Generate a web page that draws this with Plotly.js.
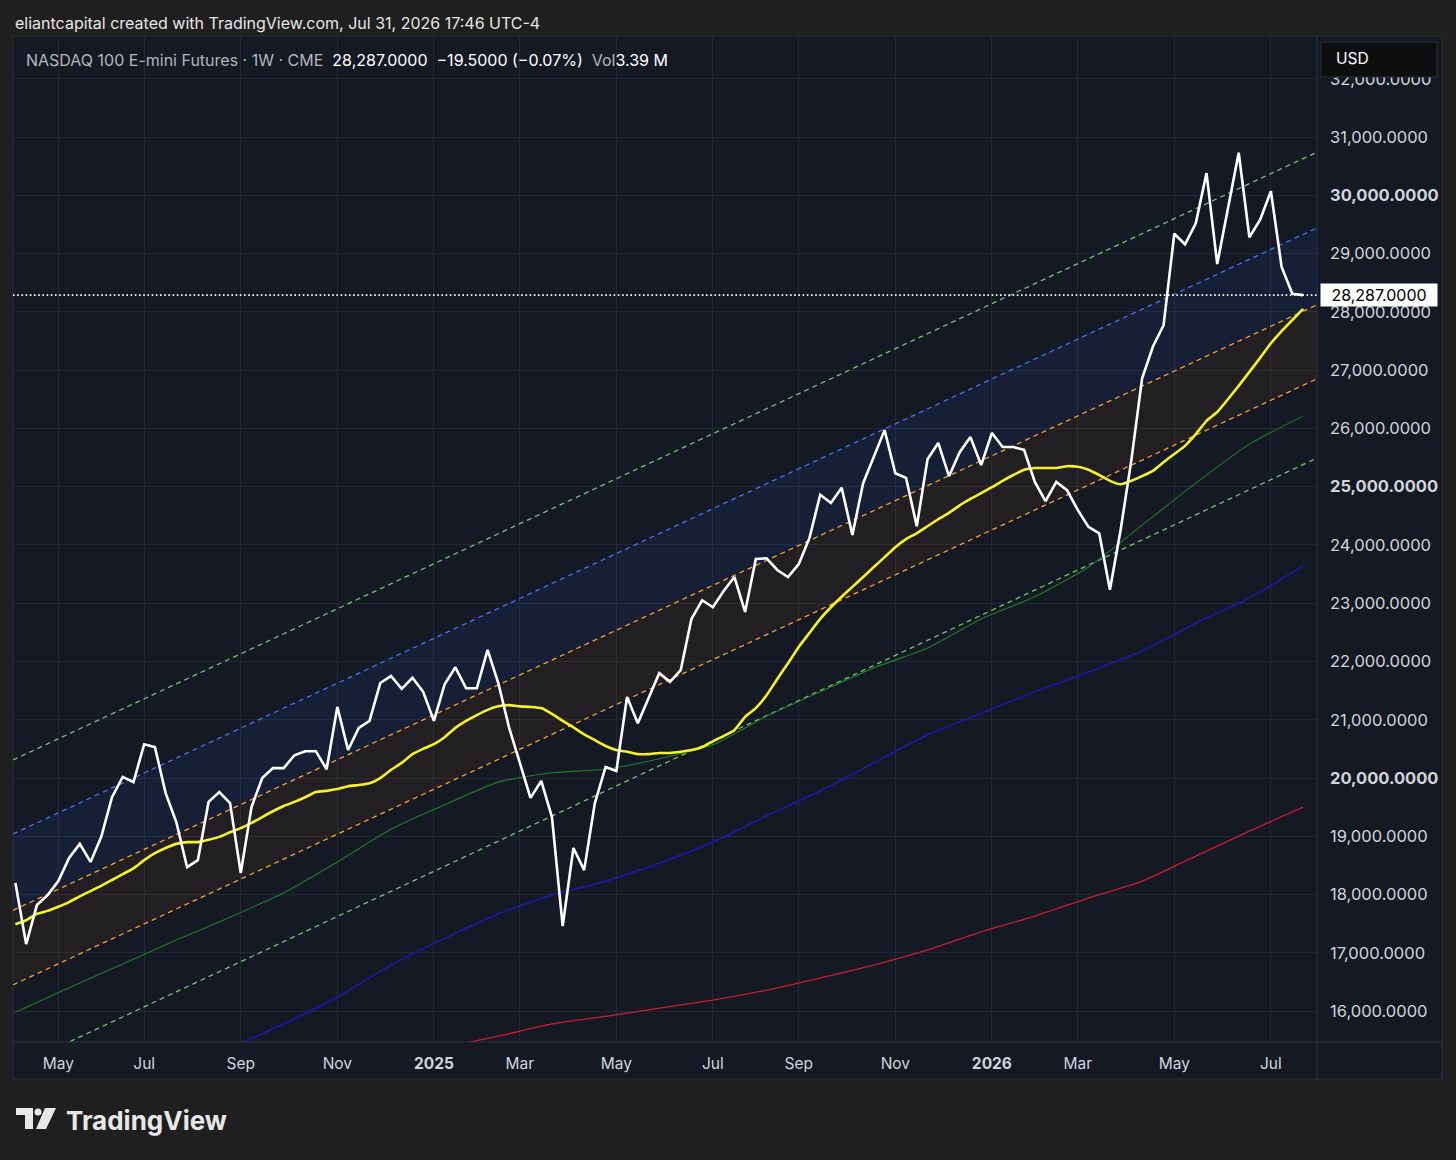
<!DOCTYPE html>
<html>
<head>
<meta charset="utf-8">
<script src="https://cdn.plot.ly/plotly-3.0.1.min.js"></script>
<style>
html,body{margin:0;padding:0;background:#1f1f1f;}
#chart{width:1456px;height:1160px;}
</style>
</head>
<body>
<div id="chart"></div>
<script>
// ---------------- DATA ----------------
const startWeek = '2024-04-08';   // first weekly bar (Monday)

// weekly closes, NQ1!
const closes = [
  18200, 17150, 17820, 17990, 18230, 18630, 18870, 18560, 18990, 19670,
  20020, 19930, 20580, 20530, 19740, 19240, 18470, 18590, 19590, 19760,
  19570, 18370, 19500, 20000, 20170, 20170, 20390, 20460, 20460, 20150,
  21220, 20480, 20860, 20980, 21630, 21750, 21530, 21720, 21480, 20980,
  21610, 21900, 21540, 21540, 22200, 21630, 20870, 20260, 19660, 19950,
  19330, 17460, 18800, 18420, 19570, 20190, 20120, 21390, 20940, 21370,
  21800, 21650, 21850, 22730, 23050, 22930, 23210, 23450, 22850, 23760,
  23770, 23570, 23450, 23670, 24120, 24860, 24720, 24980, 24170, 25060,
  25510, 25970, 25230, 25150, 24320, 25470, 25750, 25180, 25590, 25850,
  25370, 25920, 25680, 25680, 25630, 25080, 24750, 25080, 24940, 24600,
  24310, 24200, 23230, 24260, 25460, 26860, 27400, 27770, 29340, 29160,
  29520, 30380, 28820, 29760, 30730, 29280, 29580, 30070, 28770, 28310,
  28287
];

// yellow moving average (one value per bar)
const maYellow = [
  17490, 17560, 17670, 17720, 17790, 17870, 17970, 18060, 18150, 18250,
  18350, 18450, 18590, 18710, 18800, 18870, 18900, 18900, 18940, 18990,
  19070, 19140, 19230, 19330, 19430, 19520, 19590, 19670, 19760, 19780,
  19810, 19860, 19880, 19910, 20000, 20140, 20260, 20410, 20500, 20580,
  20700, 20860, 20980, 21080, 21170, 21230, 21250, 21230, 21220, 21200,
  21100, 20980, 20870, 20750, 20650, 20550, 20480, 20450, 20410, 20410,
  20430, 20430, 20450, 20480, 20530, 20630, 20720, 20820, 21050, 21200,
  21420, 21700, 21970, 22250, 22490, 22730, 22930, 23110, 23280, 23450,
  23620, 23790, 23960, 24100, 24200, 24320, 24440, 24550, 24680, 24790,
  24890, 24990, 25100, 25200, 25290, 25320, 25320, 25320, 25350, 25340,
  25290, 25200, 25100, 25040, 25100, 25180, 25270, 25420, 25560, 25700,
  25900, 26130, 26280, 26500, 26730, 26970, 27210, 27460, 27670, 27860,
  28050
];

// slower averages, read every 5th bar
const maBars   = [0,5,10,15,20,25,30,35,40,45,50,55,60,65,70,75,80,85,90,95,100,105,110,115,120];
const maGreen  = [15980,16400,16810,17220,17610,18030,18560,19120,19540,19930,20090,20150,20330,20570,21060,21480,21890,22230,22730,23110,23620,24340,25060,25730,26210];
const maNavy   = [null,null,null,null,15365,15780,16240,16790,17250,17670,17990,18230,18540,18900,19350,19780,20260,20740,21110,21480,21820,22180,22660,23090,23640];
const maRed    = [null,null,null,null,null,null,null,null,15380,15570,15780,15910,16050,16190,16360,16570,16790,17050,17360,17630,17940,18230,18660,19090,19500];

// regression-style channel, values at the two ends of the visible window
const channelDates = ['2024-04-06 10:00', '2026-08-05 02:00'];
const chGreenTop   = [20310, 30740];
const chBlue       = [19040, 29440];
const chOrangeUp   = [17730, 28120];
const chOrangeLow  = [16450, 26850];
const chGreenBot   = [15020, 25490];

// axis ticks
const xTickVals = ['2024-05-06','2024-07-01','2024-09-02','2024-11-04','2025-01-06','2025-03-03','2025-05-05',
                   '2025-07-07','2025-09-01','2025-11-03','2026-01-05','2026-03-02','2026-05-04','2026-07-06'];
const xTickText = ['May','Jul','Sep','Nov','<b>2025</b>','Mar','May','Jul','Sep','Nov','<b>2026</b>','Mar','May','Jul'];
const yTickVals = [16000,17000,18000,19000,20000,21000,22000,23000,24000,25000,26000,27000,28000,29000,30000,31000,32000];
const yTickText = ['16,000.0000','17,000.0000','18,000.0000','19,000.0000','<b>20,000.0000</b>','21,000.0000','22,000.0000',
                   '23,000.0000','24,000.0000','<b>25,000.0000</b>','26,000.0000','27,000.0000','28,000.0000','29,000.0000',
                   '<b>30,000.0000</b>','31,000.0000','32,000.0000'];

const lastPrice = closes[closes.length - 1];
const lastText = lastPrice.toLocaleString('en-US', {minimumFractionDigits: 4, maximumFractionDigits: 4});

// ---------------- BUILD ----------------
const t0 = new Date(startWeek + 'T00:00:00Z').getTime();
const barDate = i => new Date(t0 + i * 7 * 86400000).toISOString().slice(0, 10);
const dates = closes.map((_, i) => barDate(i));
const maDates = maBars.map(barDate);

const FONT = 'Inter, "Open Sans", Roboto, sans-serif';
const DASH = '5px,4px';

const traces = [
  // fills
  {x: channelDates, y: chOrangeUp, mode: 'lines', line: {width: 0}, hoverinfo: 'skip'},
  {x: channelDates, y: chBlue, mode: 'lines', line: {width: 0}, fill: 'tonexty', fillcolor: 'rgba(41,98,255,0.09)', hoverinfo: 'skip'},
  {x: channelDates, y: chOrangeLow, mode: 'lines', line: {width: 0}, hoverinfo: 'skip'},
  {x: channelDates, y: chOrangeUp, mode: 'lines', line: {width: 0}, fill: 'tonexty', fillcolor: 'rgba(255,152,0,0.055)', hoverinfo: 'skip'},
  // channel lines
  {x: channelDates, y: chGreenTop, mode: 'lines', line: {color: '#72c276', width: 1.3, dash: DASH}},
  {x: channelDates, y: chBlue, mode: 'lines', line: {color: '#3f74f2', width: 1.3, dash: DASH}},
  {x: channelDates, y: chOrangeUp, mode: 'lines', line: {color: '#f2a132', width: 1.3, dash: DASH}},
  {x: channelDates, y: chOrangeLow, mode: 'lines', line: {color: '#f2a132', width: 1.3, dash: DASH}},
  {x: channelDates, y: chGreenBot, mode: 'lines', line: {color: '#72c276', width: 1.3, dash: DASH}},
  // moving averages
  {x: maDates, y: maRed, mode: 'lines', line: {color: '#c4202c', width: 1.3, shape: 'spline', smoothing: 0.6}},
  {x: maDates, y: maNavy, mode: 'lines', line: {color: '#1a1a9c', width: 1.8, shape: 'spline', smoothing: 0.6}},
  {x: maDates, y: maGreen, mode: 'lines', line: {color: '#1f7d27', width: 1.1, shape: 'spline', smoothing: 0.6}},
  {x: dates, y: maYellow, mode: 'lines', line: {color: '#f6f226', width: 2.6, shape: 'spline', smoothing: 0.4}},
  // price
  {x: dates, y: closes, mode: 'lines', line: {color: '#ffffff', width: 2.6}}
];

// pixel helpers for paper coordinates (plot area 13..1317 x 37..1042)
const PX = p => (p - 13) / 1304;
const PY = p => (1042 - p) / 1005;

const shapes = [
  // chart panel
  {type: 'rect', xref: 'paper', yref: 'paper', x0: PX(13), x1: PX(1442), y0: PY(1079), y1: PY(36),
   fillcolor: '#151924', line: {color: '#2a2e39', width: 1}, layer: 'below'},
  // separators
  {type: 'line', xref: 'paper', yref: 'paper', x0: 1, x1: 1, y0: PY(1079), y1: PY(36), line: {color: '#2e323d', width: 1}},
  {type: 'line', xref: 'paper', yref: 'paper', x0: 0, x1: PX(1442), y0: 0, y1: 0, line: {color: '#2e323d', width: 1}},
  // last price dotted line
  {type: 'line', xref: 'paper', yref: 'y', x0: 0, x1: 1, y0: lastPrice, y1: lastPrice,
   line: {color: '#ffffff', width: 1.6, dash: '1.6px,2.6px'}},
  // USD box
  {type: 'rect', xref: 'paper', yref: 'paper', x0: PX(1321), x1: PX(1437), y0: PY(77), y1: PY(42),
   fillcolor: '#0e0e10', line: {color: '#2c2d31', width: 1}, layer: 'above'},
  // TradingView logo (pixel offsets from bottom-left of plot)
  {type: 'path', xref: 'paper', yref: 'paper', xsizemode: 'pixel', ysizemode: 'pixel', xanchor: 0, yanchor: 0,
   path: 'M 3,-66 L 20,-66 L 20,-87 L 12,-87 L 12,-73 L 3,-73 Z', fillcolor: '#e8e8e8', line: {width: 0}},
  {type: 'circle', xref: 'paper', yref: 'paper', xsizemode: 'pixel', ysizemode: 'pixel', xanchor: 0, yanchor: 0,
   x0: 21.5, x1: 28.5, y0: -73.5, y1: -66.5, fillcolor: '#e8e8e8', line: {width: 0}},
  {type: 'path', xref: 'paper', yref: 'paper', xsizemode: 'pixel', ysizemode: 'pixel', xanchor: 0, yanchor: 0,
   path: 'M 32,-66 L 43,-66 L 33,-87 L 23,-87 Z', fillcolor: '#e8e8e8', line: {width: 0}}
];

const annotations = [
  {xref: 'paper', yref: 'paper', x: PX(13), y: PY(23), xanchor: 'left', yanchor: 'middle', showarrow: false,
   text: 'eliantcapital created with TradingView.com, Jul 31, 2026 17:46 UTC-4',
   font: {family: FONT, size: 16, color: '#e6e6e6'}},
  {xref: 'paper', yref: 'paper', x: PX(24), y: PY(60), xanchor: 'left', yanchor: 'middle', showarrow: false,
   text: '<span style="color:#b2b5be">NASDAQ 100 E-mini Futures · 1W · CME</span>  ' +
         '<span style="color:#ffffff">' + lastText + '</span>  ' +
         '<span style="color:#ffffff">−19.5000 (−0.07%)</span>  ' +
         '<span style="color:#b2b5be">Vol</span><span style="color:#ffffff">3.39 M</span>',
   font: {family: FONT, size: 16, color: '#ffffff'}},
  {xref: 'paper', yref: 'paper', x: PX(1334), y: PY(59), xanchor: 'left', yanchor: 'middle', showarrow: false,
   text: 'USD', font: {family: FONT, size: 15.5, color: '#ffffff'}},
  {xref: 'paper', yref: 'y', x: PX(1320), y: lastPrice, xanchor: 'left', yanchor: 'middle', showarrow: false,
   text: lastText, bgcolor: '#ffffff', borderpad: 2, width: 112, height: 18, align: 'center',
   font: {family: FONT, size: 16, color: '#000000'}},
  {xref: 'paper', yref: 'paper', x: PX(64), y: PY(1120), xanchor: 'left', yanchor: 'middle', showarrow: false,
   text: '<b>TradingView</b>', font: {family: FONT, size: 26, color: '#e8e8e8'}}
];

const layout = {
  width: 1456, height: 1160,
  margin: {l: 13, r: 139, t: 37, b: 118, pad: 0},
  paper_bgcolor: '#1f1f1f',
  plot_bgcolor: '#151924',
  showlegend: false,
  hovermode: false,
  xaxis: {
    type: 'date', range: channelDates, tickmode: 'array', tickvals: xTickVals, ticktext: xTickText,
    showgrid: true, gridcolor: '#242834', gridwidth: 1, zeroline: false, showline: false, ticks: '',
    ticklabelstandoff: 10, tickfont: {family: FONT, size: 15.5, color: '#d1d4dc'}, fixedrange: true
  },
  yaxis: {
    side: 'right', range: [15470, 32716], tickmode: 'array', tickvals: yTickVals, ticktext: yTickText,
    showgrid: true, gridcolor: '#242834', gridwidth: 1, zeroline: false, showline: false, ticks: '',
    ticklabelstandoff: 12, tickfont: {family: FONT, size: 16.5, color: '#d1d4dc'}, fixedrange: true
  },
  shapes: shapes,
  annotations: annotations
};

Plotly.newPlot('chart', traces, layout, {displayModeBar: false, staticPlot: true});
</script>
</body>
</html>
